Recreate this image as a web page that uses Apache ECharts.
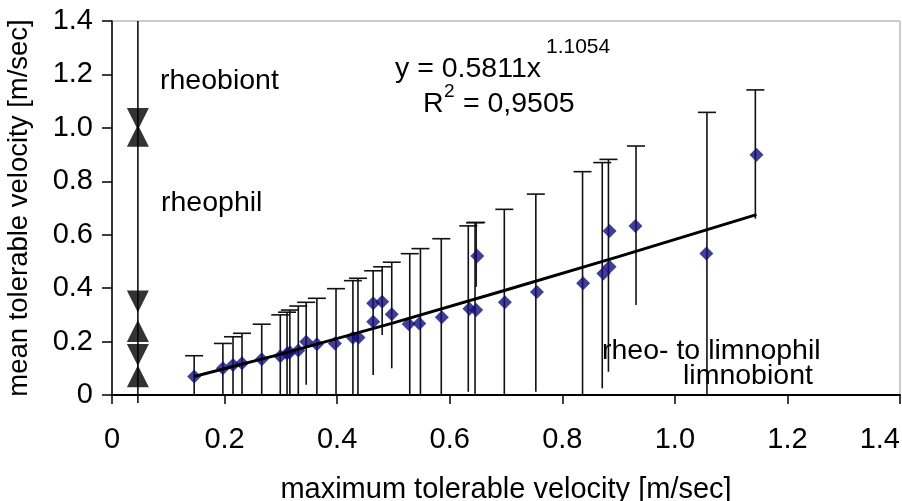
<!DOCTYPE html>
<html><head><meta charset="utf-8">
<script src="https://cdn.jsdelivr.net/npm/echarts@6/dist/echarts.min.js"></script>
<style>html,body{margin:0;padding:0;background:#fff}#c{width:902px;height:501px}</style>
</head><body><div id="c"></div>
<script>
// species points: maximum tolerable velocity (x) vs mean tolerable velocity (y)
const maxVel  = [0.146,0.197,0.215,0.231,0.266,0.299,0.311,0.316,0.331,0.345,0.364,0.396,0.428,0.438,0.464,0.464,0.480,0.497,0.527,0.546,0.586,0.635,0.647,0.649,0.698,0.755,0.837,0.873,0.884,0.884,0.930,1.056,1.145];
const meanVel = [0.069,0.100,0.112,0.119,0.134,0.145,0.155,0.160,0.167,0.199,0.190,0.193,0.214,0.215,0.274,0.343,0.349,0.302,0.266,0.268,0.291,0.323,0.318,0.520,0.347,0.386,0.418,0.455,0.480,0.614,0.633,0.530,0.899];
// range bars (min .. max tolerable velocity)
const barX    = [0.146,0.197,0.215,0.231,0.266,0.299,0.311,0.316,0.331,0.345,0.364,0.398,0.428,0.437,0.464,0.480,0.497,0.529,0.548,0.585,0.633,0.645,0.647,0.697,0.753,0.836,0.871,0.882,0.931,1.057,1.143];
const barLow  = [0,0,0,0,0,0,0,0,0,0.038,0,0,0,0,0.075,0.225,0.100,0,0,0,0.012,0,0.405,0,0.012,0,0.025,0.087,0.337,0,0.660];
const barHigh = [0.147,0.193,0.218,0.231,0.265,0.300,0.310,0.318,0.333,0.347,0.362,0.398,0.428,0.437,0.465,0.480,0.497,0.529,0.548,0.585,0.633,0.645,0.646,0.695,0.752,0.836,0.870,0.882,0.932,1.058,1.142];
// power trendline
const trendX = [0.146,0.30,0.50,0.70,0.90,1.145];
const trendY = [0.069,0.153,0.270,0.393,0.518,0.675];
// classification guide
const guideX = 0.046;
const guideRange = [-0.03, 1.4];
const downArrows = [1.033, 0.35, 0.15];
const upArrows = [0.97, 0.24, 0.07];
// tick labels
const xTickLabels = ['0','0.2','0.4','0.6','0.8','1.0','1.2','1.4'];
const yTickLabels = ['0','0.2','0.4','0.6','0.8','1.0','1.2','1.4'];

const FONT = '"Liberation Sans", Arial, sans-serif';
const chart = echarts.init(document.getElementById('c'), null, {renderer:'canvas'});

const pts = maxVel.map((x,i)=>[x, meanVel[i]]);
const bars = barX.map((x,i)=>[x, barLow[i], barHigh[i]]);
const trend = trendX.map((x,i)=>[x, trendY[i]]);
const T = (x,y,text,size)=>({type:'text',x:x,y:y,style:{text:text,font:size+'px '+FONT,fill:'#000',verticalAlign:'middle',align:'left'}});

chart.setOption({
  animation:false,
  backgroundColor:'#fff',
  grid:{left:112,right:2,top:21,bottom:106,containLabel:false,outerBoundsMode:'none',
    show:true,borderColor:'#9a9a9a',borderWidth:1,backgroundColor:'transparent'},
  xAxis:{type:'value',min:0,max:1.4,interval:0.2,
    name:'maximum tolerable velocity [m/sec]',nameLocation:'middle',nameGap:80,
    nameTextStyle:{fontFamily:FONT,fontSize:29,color:'#000'},
    axisLine:{lineStyle:{color:'#000',width:2}},
    axisTick:{show:true,inside:false,length:9,lineStyle:{color:'#000',width:1.5}},
    axisLabel:{fontFamily:FONT,fontSize:29,color:'#000',margin:30,alignMaxLabel:'right',
      formatter:v=>xTickLabels[Math.round(v/0.2)]},
    splitLine:{show:false}},
  yAxis:{type:'value',min:0,max:1.4,interval:0.2,
    name:'mean tolerable velocity [m/sec]',nameLocation:'middle',nameGap:79,nameRotate:90,
    nameTextStyle:{fontFamily:FONT,fontSize:27.5,color:'#000'},
    axisLine:{show:true,lineStyle:{color:'#000',width:1.5}},
    axisTick:{show:true,length:10,lineStyle:{color:'#000',width:1.5}},
    axisLabel:{fontFamily:FONT,fontSize:29,color:'#000',margin:19,
      formatter:v=>yTickLabels[Math.round(v/0.2)]},
    splitLine:{show:false}},
  series:[
    {type:'line',data:[[guideX,guideRange[0]],[guideX,guideRange[1]]],showSymbol:false,symbol:'none',clip:false,
      lineStyle:{color:'#000',width:1.5},z:1,silent:true},
    {type:'scatter',data:downArrows.map(v=>[guideX,v]),symbol:'triangle',symbolRotate:180,symbolSize:[22,22],
      itemStyle:{color:'#000'},z:4},
    {type:'scatter',data:upArrows.map(v=>[guideX,v]),symbol:'triangle',symbolSize:[22,22],
      itemStyle:{color:'#000'},z:4},
    {type:'custom',data:bars,z:2,
      renderItem:function(params,api){
        const x=api.value(0), lo=api.value(1), hi=api.value(2);
        const p1=api.coord([x,lo]), p2=api.coord([x,hi]);
        const st={stroke:'#111',lineWidth:1.6};
        return {type:'group',children:[
          {type:'line',shape:{x1:p1[0],y1:p1[1],x2:p2[0],y2:p2[1]},style:st},
          {type:'line',shape:{x1:p2[0]-9,y1:p2[1],x2:p2[0]+9,y2:p2[1]},style:st}
        ]};
      }},
    {type:'scatter',data:pts,symbol:'diamond',symbolSize:14,itemStyle:{color:'#110e78'},z:3},
    {type:'line',data:trend,showSymbol:false,symbol:'none',smooth:false,lineStyle:{color:'#000',width:3},z:5}
  ],
  graphic:[
    T(160,81,'rheobiont',28.5),
    T(161,203,'rheophil',28.5),
    T(602,351,'rheo- to limnophil',28.5),
    T(683,376,'limnobiont',28.5),
    T(395,69,'y = 0.5811x',28.5),
    T(546,47,'1.1054',21),
    T(423,104,'R',28.5),
    T(444,92,'2',19),
    T(455,104,' = 0,9505',28.5)
  ]
});
</script></body></html>
